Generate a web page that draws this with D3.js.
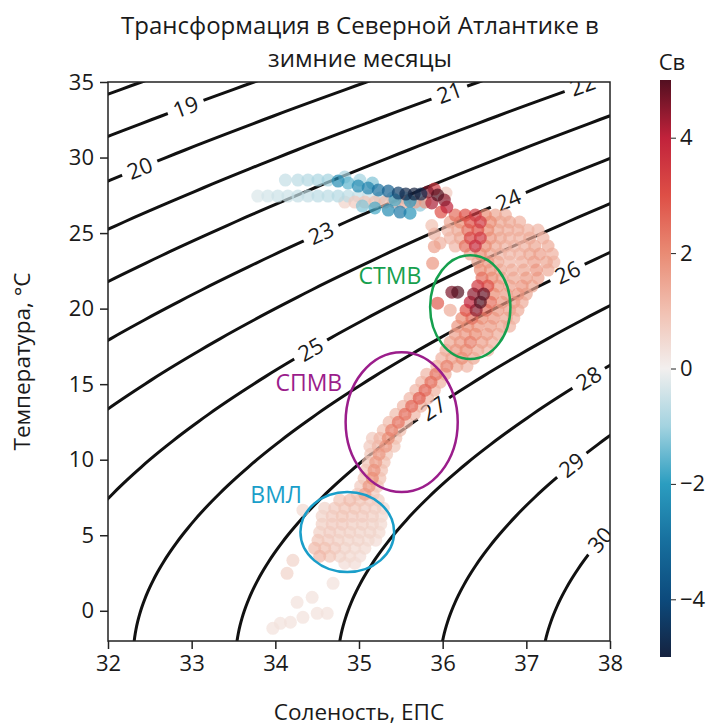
<!DOCTYPE html>
<html>
<head>
<meta charset="utf-8">
<script src="https://cdn.jsdelivr.net/npm/d3@7"></script>
<style>
body { margin: 0; background: #fff; }
text { font-family: "Open Sans", sans-serif; fill: #1a1a1a; }
</style>
</head>
<body>
<svg id="ts" width="714" height="726"></svg>
<script>
// ---- data ----
const salinityTicks = [32, 33, 34, 35, 36, 37, 38]
const tempTicks = [0, 5, 10, 15, 20, 25, 30, 35]
const cbarTicks = [-4, -2, 0, 2, 4]
const sigmaLevels = [18, 19, 20, 21, 22, 23, 24, 25, 26, 27, 28, 29, 30]
// isopycnal labels: level and temperature where the label sits
const labelLevels = [19, 20, 21, 22, 23, 24, 25, 26, 27, 28, 29, 30]
const labelTemps = [33.35, 29.3, 34.3, 34.8, 25.0, 27.2, 17.3, 22.4, 13.4, 15.4, 9.65, 4.7]

// [salinity, temperature, Sv]
const tailPoints = [
  [33.79,27.45,-0.3],[33.91,27.45,-0.4],[34.03,27.45,-0.5],[34.15,27.45,-0.5],[34.27,27.45,-0.6],
  [34.39,27.45,-0.6],[34.51,27.45,-0.7],[34.63,27.45,-0.7],[34.75,27.45,-0.8],[34.87,27.45,-0.7],
  [34.99,27.45,-0.6],[35.11,27.45,-0.5],
  [34.12,28.51,-0.6],[34.27,28.51,-0.7],[34.39,28.51,-0.8],[34.51,28.51,-0.9],[34.63,28.51,-1.0],
  [34.75,28.44,-2.4],[34.83,28.71,-0.9],[34.87,28.31,-1.6],[35.01,28.51,-1.0],[35.16,28.31,-1.3],
  [34.99,28.11,-2.4],[35.11,27.98,-2.6],[35.23,27.85,-3.0],[35.35,27.78,-3.4],[35.47,27.65,-4.3],
  [35.56,27.58,-4.8],[35.66,27.58,-5.0],[35.74,27.58,-4.8],
  [34.83,27.05,0.6],[34.95,27.05,0.8],[35.07,27.05,0.9],[35.19,27.05,1.0],[35.31,27.05,1.1],
  [35.43,27.05,1.2],[35.55,27.05,1.4],[35.67,27.05,1.6],[35.79,27.05,1.8],
  [35.25,27.32,-0.8],[35.40,27.32,-0.9],[35.55,27.32,-1.0],
  [35.04,26.79,-1.3],[35.19,26.66,-1.8],[35.35,26.52,-2.4],[35.49,26.39,-2.8],[35.61,26.32,-2.2],
  [35.43,27.19,-1.8],[35.61,27.12,-2.2],[35.73,26.85,-1.2],
  [35.82,27.72,4.6],[35.90,27.91,3.5],[35.94,27.52,5.0],[36.02,27.19,4.5],[36.05,26.72,4.0],
  [35.98,26.39,3.0],[35.87,26.99,4.2],[36.04,27.65,0.8]
]

const stmwPoints = [
  [36.15,26.19,2.5],[36.27,26.19,3.0],[36.39,26.19,3.5],[36.51,26.19,2.0],[36.63,26.19,1.5],[36.75,26.19,1.3],
  [36.09,25.73,1.5],[36.21,25.73,2.0],[36.33,25.73,3.0],[36.45,25.73,3.5],[36.57,25.73,2.0],[36.69,25.73,1.5],
  [36.80,25.73,1.5],[36.92,25.73,1.3],
  [36.06,25.20,1.2],[36.18,25.20,1.5],[36.30,25.20,2.5],[36.42,25.20,3.0],[36.54,25.20,2.0],[36.66,25.20,1.5],
  [36.78,25.20,1.4],[36.90,25.20,1.4],[37.02,25.20,1.3],[37.14,25.20,1.2],
  [36.09,24.67,1.2],[36.21,24.67,1.5],[36.33,24.67,3.2],[36.45,24.67,3.5],[36.57,24.67,1.8],[36.69,24.67,1.5],
  [36.80,24.67,1.3],[36.92,24.67,1.3],[37.04,24.67,1.4],[37.20,24.67,1.3],
  [36.15,24.14,1.2],[36.27,24.14,2.5],[36.39,24.14,3.8],[36.51,24.14,2.0],[36.63,24.14,1.5],[36.75,24.14,1.3],
  [36.86,24.14,1.2],[36.98,24.14,1.3],[37.10,24.14,1.5],[37.26,24.14,1.4],
  [36.33,23.61,1.5],[36.45,23.61,2.0],[36.57,23.61,1.5],[36.69,23.61,1.2],[36.80,23.61,1.2],[36.92,23.61,1.3],
  [37.04,23.61,1.5],[37.16,23.61,1.6],[37.31,23.61,1.3],
  [36.42,23.08,1.5],[36.54,23.08,1.8],[36.66,23.08,1.5],[36.80,23.08,1.2],[36.95,23.08,1.3],[37.09,23.08,1.6],
  [37.24,23.08,1.5],[37.33,23.08,1.2],
  [36.45,22.55,2.0],[36.57,22.55,1.8],[36.69,22.55,1.5],[36.83,22.55,1.4],[36.97,22.55,1.5],[37.12,22.55,1.8],
  [37.26,22.55,1.4],
  [36.47,22.02,2.5],[36.59,22.02,2.0],[36.71,22.02,1.6],[36.85,22.02,1.5],[37.00,22.02,1.7],[37.14,22.02,1.6],
  [36.42,21.49,3.5],[36.54,21.49,3.0],[36.66,21.49,1.8],[36.80,21.49,1.6],[36.95,21.49,1.8],[37.07,21.49,1.5],
  [36.37,20.96,4.5],[36.49,20.96,4.8],[36.61,20.96,2.0],[36.76,20.96,1.7],[36.90,20.96,1.8],[37.00,20.96,1.5],
  [36.33,20.43,4.0],[36.45,20.43,5.0],[36.57,20.43,2.5],[36.71,20.43,1.8],[36.85,20.43,1.7],[36.95,20.43,1.4],
  [36.28,19.90,3.0],[36.40,19.90,4.5],[36.52,19.90,2.5],[36.66,19.90,1.8],[36.80,19.90,1.6],[36.90,19.90,1.4],
  [36.23,19.37,2.0],[36.35,19.37,2.5],[36.47,19.37,2.0],[36.61,19.37,1.8],[36.76,19.37,1.5],[36.85,19.37,1.3],
  [36.18,18.84,1.8],[36.30,18.84,2.0],[36.42,18.84,1.8],[36.57,18.84,1.7],[36.71,18.84,1.5],[36.80,18.84,1.3],
  [36.15,18.31,1.6],[36.27,18.31,1.8],[36.39,18.31,2.0],[36.53,18.31,1.7],[36.66,18.31,1.4],
  [36.09,17.78,1.5],[36.21,17.78,1.8],[36.33,17.78,2.2],[36.47,17.78,1.6],[36.59,17.78,1.3],
  [36.04,17.25,1.4],[36.16,17.25,1.8],[36.28,17.25,2.0],[36.42,17.25,1.5],[36.54,17.25,1.2],
  [35.99,16.72,1.3],[36.11,16.72,1.6],[36.23,16.72,2.0],[36.37,16.72,1.5],
  [35.87,25.50,1.0],[35.90,24.94,1.2],[35.97,24.34,1.3],[35.90,24.10,1.6],[35.88,23.00,1.8],
  [36.18,21.09,5.0],[36.11,21.09,4.6],[35.94,20.36,2.8],[36.09,19.90,1.4]
]

const spmwPoints = [
  [35.93,16.19,1.3],[36.05,16.19,2.2],[36.17,16.19,1.5],[36.29,16.19,1.2],
  [35.81,15.66,1.2],[35.92,15.66,2.4],[36.03,15.66,1.4],
  [35.75,15.13,1.2],[35.86,15.13,2.5],[35.97,15.13,1.3],
  [35.68,14.60,1.2],[35.79,14.60,2.6],[35.90,14.60,1.3],
  [35.61,14.07,1.2],[35.72,14.07,2.8],[35.82,14.07,1.3],
  [35.53,13.54,1.2],[35.63,13.54,2.6],[35.74,13.54,1.3],
  [35.44,13.01,1.1],[35.55,13.01,2.5],[35.66,13.01,1.2],
  [35.36,12.48,1.1],[35.47,12.48,2.4],[35.57,12.48,1.1],
  [35.29,11.95,1.0],[35.39,11.95,2.2],[35.49,11.95,1.1],
  [35.16,11.42,0.8],[35.25,11.42,1.2],[35.35,11.42,2.0],[35.44,11.42,1.0],
  [35.13,10.89,0.8],[35.23,10.89,1.2],[35.32,10.89,1.8],[35.42,10.89,0.9],
  [35.14,10.36,0.9],[35.24,10.36,1.8],[35.33,10.36,0.9],
  [35.11,9.83,0.9],[35.20,9.83,1.7],[35.30,9.83,1.0],
  [35.08,9.30,0.9],[35.18,9.30,1.9],[35.27,9.30,1.0],
  [35.06,8.77,0.9],[35.16,8.77,2.0],[35.25,8.77,1.0],
  [35.02,8.25,0.8],[35.12,8.25,1.8],[35.22,8.25,0.9],
  [34.98,7.72,0.8],[35.07,7.72,1.6],[35.17,7.72,0.8]
]

const vmlPoints = [
  [34.77,7.32,0.9],[34.89,7.32,1.1],[35.01,7.32,0.9],[35.13,7.32,0.8],[35.23,7.32,0.7],
  [34.59,6.79,0.6],[34.71,6.79,0.8],[34.83,6.79,0.9],[34.95,6.79,0.9],[35.07,6.79,0.8],[35.19,6.79,0.7],[35.29,6.79,0.5],
  [34.56,6.26,0.6],[34.68,6.26,0.8],[34.80,6.26,0.9],[34.92,6.26,0.8],[35.04,6.26,0.8],[35.16,6.26,0.7],[35.27,6.26,0.5],
  [34.56,5.73,0.7],[34.68,5.73,0.8],[34.80,5.73,0.8],[34.92,5.73,0.7],[35.04,5.73,0.7],[35.16,5.73,0.6],[35.26,5.73,0.5],
  [34.53,5.20,0.7],[34.65,5.20,0.8],[34.77,5.20,0.7],[34.89,5.20,0.7],[35.01,5.20,0.6],[35.13,5.20,0.6],[35.24,5.20,0.5],
  [34.51,4.67,0.9],[34.63,4.67,0.8],[34.75,4.67,0.7],[34.87,4.67,0.6],[34.99,4.67,0.6],[35.11,4.67,0.5],[35.20,4.67,0.4],
  [34.47,4.14,1.1],[34.59,4.14,1.0],[34.71,4.14,0.8],[34.83,4.14,0.6],[34.95,4.14,0.5],[35.07,4.14,0.5],
  [34.53,3.61,1.2],[34.65,3.61,0.9],[34.77,3.61,0.6],[34.89,3.61,0.5],[35.01,3.61,0.4],
  [34.83,3.15,0.4],[34.95,3.15,0.4],
  [34.33,6.66,0.5],[34.21,3.34,0.6],[34.14,2.48,0.6],[34.69,1.82,0.3],[34.44,0.89,0.3],[34.26,0.56,0.3],
  [34.50,-0.17,0.3],[34.62,-0.17,0.3],[34.33,-0.43,0.3],[34.18,-0.76,0.3],[34.06,-0.83,0.3],[33.97,-1.16,0.3]
]

// water mass ellipses (centre and half-axes in S / T units) and their labels
const massNames = ['СТМВ', 'СПМВ', 'ВМЛ']
const massS = [36.33, 35.51, 34.86]
const massT = [20.1, 12.49, 5.21]
const massHalfS = [0.48, 0.67, 0.56]
const massHalfT = [3.44, 4.63, 2.65]
const massLabelS = [35.37, 34.40, 34.01]
const massLabelT = [22.16, 15.07, 7.66]

// Sv colour stops (balance-like diverging map)
const cmapValues = [-5, -4, -3, -2, -1, 0, 1, 2, 3, 4, 5]
const cmapColors = ['#15223f', '#0c4a7c', '#176f9e', '#2b9dc0', '#a3d3e0', '#f2efee',
                    '#f1c0b1', '#e98b74', '#de4f46', '#c1223b', '#520f20']

// ---- styles ----
const massColors = ['#16a04e', '#9b1d8b', '#1a9ec9']
const fontSize = 22
const dotRadius = 6.5

// ---- setup ----
const svg = d3.select('#ts')
const plot = { left: 108, right: 610, top: 82, bottom: 641 }

const x = d3.scaleLinear().domain([32, 38]).range([plot.left, plot.right])
const y = d3.scaleLinear().domain([-2, 35]).range([plot.bottom, plot.top])
const color = d3.scaleLinear().domain(cmapValues).range(cmapColors)
  .interpolate(d3.interpolateRgb).clamp(true)

// sea water density anomaly at surface pressure (UNESCO EOS-80)
function sigma(S, T) {
  const rw = 999.842594 + 6.793952e-2 * T - 9.095290e-3 * T * T + 1.001685e-4 * T ** 3
    - 1.120083e-6 * T ** 4 + 6.536332e-9 * T ** 5
  const A = 8.24493e-1 - 4.0899e-3 * T + 7.6438e-5 * T * T - 8.2467e-7 * T ** 3 + 5.3875e-9 * T ** 4
  const B = -5.72466e-3 + 1.0227e-4 * T - 1.6546e-6 * T * T
  const C = 4.8314e-4
  return rw + A * S + B * S ** 1.5 + C * S * S - 1000
}
// salinity on a given isopycnal at temperature T (bisection)
function salinityAt(level, T) {
  let lo = 20, hi = 45
  for (let i = 0; i < 50; i++) {
    const mid = (lo + hi) / 2
    if (sigma(mid, T) < level) lo = mid; else hi = mid
  }
  return (lo + hi) / 2
}

const defs = svg.append('defs')
defs.append('clipPath').attr('id', 'plotClip')
  .append('rect')
  .attr('x', plot.left).attr('y', plot.top)
  .attr('width', plot.right - plot.left).attr('height', plot.bottom - plot.top)

// label geometry
const labels = labelLevels.map((lev, i) => {
  const T0 = labelTemps[i]
  const S0 = salinityAt(lev, T0)
  const S1 = salinityAt(lev, T0 + 0.5)
  let ang = Math.atan2(y(T0 + 0.5) - y(T0), x(S1) - x(S0)) * 180 / Math.PI
  if (ang > 90) ang -= 180
  if (ang < -90) ang += 180
  return { lev, px: x(S0), py: y(T0), ang }
})

// mask cutting the contour lines under the labels
const mask = defs.append('mask').attr('id', 'labelGaps')
  .attr('maskUnits', 'userSpaceOnUse')
  .attr('x', 0).attr('y', 0).attr('width', 714).attr('height', 726)
mask.append('rect').attr('width', 714).attr('height', 726).attr('fill', '#fff')
mask.selectAll('rect.gap').data(labels).enter().append('rect')
  .attr('class', 'gap')
  .attr('x', -19).attr('y', -12).attr('width', 38).attr('height', 24)
  .attr('fill', '#000')
  .attr('transform', d => `translate(${d.px},${d.py}) rotate(${d.ang})`)

// ---- isopycnals ----
const line = d3.line().x(d => x(d[0])).y(d => y(d[1]))
const tempSteps = d3.range(-3, 36.01, 0.25)
const contourG = svg.append('g').attr('clip-path', 'url(#plotClip)')
  .append('g').attr('mask', 'url(#labelGaps)')
contourG.selectAll('path').data(sigmaLevels).enter().append('path')
  .attr('d', lev => line(tempSteps.map(T => [salinityAt(lev, T), T])))
  .attr('fill', 'none').attr('stroke', '#111').attr('stroke-width', 3)

svg.append('g').attr('clip-path', 'url(#plotClip)')
  .selectAll('text').data(labels).enter().append('text')
  .attr('transform', d => `translate(${d.px},${d.py}) rotate(${d.ang})`)
  .attr('text-anchor', 'middle').attr('dy', '0.36em')
  .style('font-size', fontSize + 'px')
  .text(d => d.lev)

// ---- transformation points ----
const points = [].concat(tailPoints, stmwPoints, spmwPoints, vmlPoints)
  .sort((a, b) => Math.abs(a[2]) - Math.abs(b[2]))
svg.append('g').attr('clip-path', 'url(#plotClip)')
  .selectAll('circle').data(points).enter().append('circle')
  .attr('cx', d => x(d[0])).attr('cy', d => y(d[1])).attr('r', dotRadius)
  .attr('fill', d => color(d[2])).attr('fill-opacity', 0.7)

// ---- water mass ellipses ----
const masses = massNames.map((name, i) => ({ name, i }))
svg.append('g').selectAll('ellipse').data(masses).enter().append('ellipse')
  .attr('cx', d => x(massS[d.i])).attr('cy', d => y(massT[d.i]))
  .attr('rx', d => x(massS[d.i] + massHalfS[d.i]) - x(massS[d.i]))
  .attr('ry', d => y(massT[d.i]) - y(massT[d.i] + massHalfT[d.i]))
  .attr('fill', 'none').attr('stroke', d => massColors[d.i]).attr('stroke-width', 2.5)
svg.append('g').selectAll('text').data(masses).enter().append('text')
  .attr('x', d => x(massLabelS[d.i])).attr('y', d => y(massLabelT[d.i]))
  .attr('text-anchor', 'middle').attr('dy', '0.36em')
  .style('font-size', '23px').style('fill', d => massColors[d.i])
  .text(d => d.name)

// ---- axes ----
const xAxis = svg.append('g').attr('transform', `translate(0,${plot.bottom})`)
  .call(d3.axisBottom(x).tickValues(salinityTicks).tickFormat(d3.format('d'))
    .tickSize(8).tickPadding(6))
const yAxis = svg.append('g').attr('transform', `translate(${plot.left},0)`)
  .call(d3.axisLeft(y).tickValues(tempTicks).tickFormat(d3.format('d'))
    .tickSize(8).tickPadding(6))
svg.selectAll('.tick text').style('font-size', fontSize + 'px').style('font-family', '"Open Sans", sans-serif')
svg.selectAll('.tick line').attr('stroke-width', 1.5).attr('stroke', '#222')
svg.selectAll('path.domain').remove()

// frame
svg.append('rect')
  .attr('x', plot.left).attr('y', plot.top)
  .attr('width', plot.right - plot.left).attr('height', plot.bottom - plot.top)
  .attr('fill', 'none').attr('stroke', '#222').attr('stroke-width', 1.5)

svg.append('text')
  .attr('x', (plot.left + plot.right) / 2).attr('y', 720)
  .attr('text-anchor', 'middle').style('font-size', '22.5px')
  .text('Соленость, ЕПС')
svg.append('text')
  .attr('transform', `translate(30,${(plot.top + plot.bottom) / 2}) rotate(-90)`)
  .attr('text-anchor', 'middle').style('font-size', '22.5px')
  .text('Температура, °C')

// title
svg.append('text').attr('x', 360).attr('y', 34).attr('text-anchor', 'middle')
  .style('font-size', '24px').text('Трансформация в Северной Атлантике в')
svg.append('text').attr('x', 360).attr('y', 67).attr('text-anchor', 'middle')
  .style('font-size', '24px').text('зимние месяцы')

// ---- colour bar ----
const cbar = { x: 660, w: 11, top: 80, bottom: 657 }
const cy = d3.scaleLinear().domain([-5, 5]).range([cbar.bottom, cbar.top])
const grad = defs.append('linearGradient').attr('id', 'cbarGrad')
  .attr('x1', 0).attr('y1', 1).attr('x2', 0).attr('y2', 0)
grad.selectAll('stop').data(cmapValues).enter().append('stop')
  .attr('offset', v => (v + 5) / 10).attr('stop-color', v => color(v))
svg.append('rect').attr('x', cbar.x).attr('y', cbar.top)
  .attr('width', cbar.w).attr('height', cbar.bottom - cbar.top)
  .attr('fill', 'url(#cbarGrad)')
const cAxis = svg.append('g').attr('transform', `translate(${cbar.x + cbar.w},0)`)
  .call(d3.axisRight(cy).tickValues(cbarTicks).tickSize(5).tickPadding(4)
    .tickFormat(d => d < 0 ? '\u2212' + Math.abs(d) : d))
cAxis.select('path.domain').remove()
cAxis.selectAll('.tick text').style('font-size', fontSize + 'px').style('font-family', '"Open Sans", sans-serif')
cAxis.selectAll('.tick line').attr('stroke', '#222')
svg.append('text').attr('x', 672).attr('y', 70).attr('text-anchor', 'middle')
  .style('font-size', fontSize + 'px').text('Св')
</script>
</body>
</html>
